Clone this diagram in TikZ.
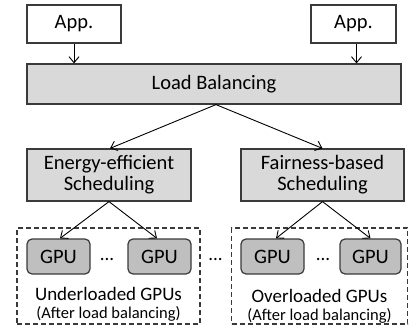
\documentclass[tikz,border=0pt]{standalone}
\usepackage{fontspec}
\setmainfont{Carlito}
\usetikzlibrary{arrows.meta}
\definecolor{edge}{HTML}{3A3A3A}
\definecolor{boxgray}{HTML}{D9D9D9}
\definecolor{gpugray}{HTML}{BFBFBF}
\tikzset{
  appbox/.style={draw=edge, line width=1.2pt, fill=white, inner sep=0pt, font=\fontsize{20.5}{22}\selectfont},
  graybox/.style={draw=edge, line width=1.2pt, fill=boxgray, inner sep=0pt, align=center, font=\fontsize{20.5}{21}\selectfont},
  gpubox/.style={draw=edge, line width=1.2pt, fill=gpugray, rounded corners=5pt, inner sep=0pt, font=\fontsize{20.5}{22}\selectfont},
  groupbox/.style={draw=edge, line width=1.1pt, dash pattern=on 5pt off 3pt},
  link/.style={draw=black, line width=0.9pt, -{Straight Barb[length=6pt,width=10pt]}},
  lbl/.style={inner sep=0pt, font=\fontsize{19}{21}\selectfont},
  sublbl/.style={inner sep=0pt, font=\fontsize{16.5}{18}\selectfont},
}
\begin{document}
\begin{tikzpicture}[x=1pt, y=-1pt]
\useasboundingbox (0,0) rectangle (409,329);

% applications
\node[appbox, minimum width=94pt, minimum height=38pt] (appL) at (74,24) {App.};
\node[appbox, minimum width=85pt, minimum height=38pt] (appR) at (353.5,24) {App.};

% load balancer
\node[graybox, minimum width=374pt, minimum height=40pt] (lb) at (214,84) {Load Balancing};

% schedulers
\node[graybox, minimum width=164pt, minimum height=52pt] (en) at (109,175) {Energy-efficient\\Scheduling};
\node[graybox, minimum width=163pt, minimum height=52pt] (fa) at (322.5,175) {Fairness-based\\Scheduling};

% GPU groups
\node[groupbox, minimum width=183pt, minimum height=96pt, inner sep=0pt] (grpL) at (108.5,276) {};
\node[groupbox, minimum width=176pt, minimum height=96pt, inner sep=0pt] (grpR) at (319.5,276) {};

\node[gpubox, minimum width=63pt, minimum height=35pt] (g1) at (58.5,256.5) {GPU};
\node[gpubox, minimum width=63pt, minimum height=35pt] (g2) at (159.5,256.5) {GPU};
\node[gpubox, minimum width=63pt, minimum height=35pt] (g3) at (272.5,256.5) {GPU};
\node[gpubox, minimum width=61pt, minimum height=35pt] (g4) at (370.5,256.5) {GPU};

\node[lbl] (d1) at (107,259) {...};
\node[lbl] (d2) at (215.5,259) {...};
\node[lbl] (d3) at (323,259) {...};

\node[lbl] (uL) at (108.5,294) {Underloaded GPUs};
\node[sublbl] (uS) at (108.5,314) {(After load balancing)};
\node[lbl] (oL) at (319.5,296) {Overloaded GPUs};
\node[sublbl] (oS) at (319.5,316) {(After load balancing)};

% connectors
\draw[link] (appL.south) -- (appL.south |- lb.north);
\draw[link] ([xshift=3pt]appR.south) -- ([xshift=3pt]appR.south |- lb.north);
\draw[link] ([xshift=2pt]lb.south) -- ([xshift=1pt]en.north);
\draw[link] ([xshift=2pt]lb.south) -- (fa.north);
\draw[link] (en.south) -- ([xshift=1.5pt]g1.north);
\draw[link] (en.south) -- ([xshift=-2.5pt]g2.north);
\draw[link] (fa.south) -- ([xshift=3.5pt]g3.north);
\draw[link] (fa.south) -- (g4.north);
\end{tikzpicture}
\end{document}
